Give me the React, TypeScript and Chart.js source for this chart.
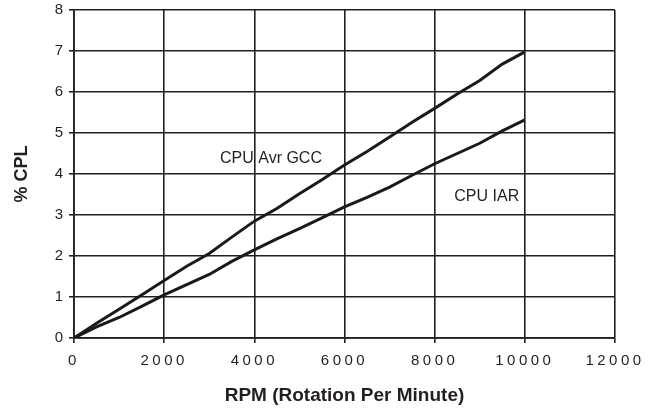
import React, { useEffect, useRef } from "react";
import { Chart, registerables } from "chart.js";

Chart.register(...registerables);

const rpm = [0, 500, 1000, 1500, 2000, 2500, 3000, 3500, 4000, 4500, 5000, 5500, 6000, 6500, 7000, 7500, 8000, 8500, 9000, 9500, 10000];
const cpuAvrGcc = [0, 0.36, 0.7, 1.05, 1.4, 1.75, 2.06, 2.46, 2.85, 3.16, 3.52, 3.86, 4.22, 4.55, 4.9, 5.26, 5.6, 5.95, 6.28, 6.68, 6.98];
const cpuIar = [0, 0.27, 0.5, 0.77, 1.05, 1.3, 1.55, 1.87, 2.15, 2.42, 2.67, 2.93, 3.2, 3.43, 3.68, 3.97, 4.25, 4.5, 4.75, 5.05, 5.32];

const seriesNames = ["CPU Avr GCC", "CPU IAR"];
// label anchors in data units [rpm, %CPL]
const labelX = [4370, 9155];
const labelY = [4.38, 3.46];

const xTitle = "RPM (Rotation Per Minute)";
const yTitle = "% CPL";

const FONT = "Arial, 'Liberation Sans', Helvetica, sans-serif";
const INK = "#231f20";

export default function App() {
  const ref = useRef<HTMLCanvasElement | null>(null);

  useEffect(() => {
    if (!ref.current) return;
    const labelPlugin = {
      id: "seriesLabels",
      afterDatasetsDraw(chart: any) {
        const { ctx, scales } = chart;
        ctx.save();
        ctx.font = `16px ${FONT}`;
        ctx.fillStyle = INK;
        ctx.textAlign = "center";
        ctx.textBaseline = "middle";
        seriesNames.forEach((n, i) => {
          ctx.fillText(n, scales.x.getPixelForValue(labelX[i]), scales.y.getPixelForValue(labelY[i]));
        });
        ctx.restore();
        // widen tracking for x tick labels drawn next
        (ctx as any).letterSpacing = "3.5px";
      },
      afterDraw(chart: any) {
        (chart.ctx as any).letterSpacing = "0px";
      },
    };

    const chart = new Chart(ref.current, {
      type: "line",
      data: {
        datasets: [
          {
            label: seriesNames[0],
            data: rpm.map((x, i) => ({ x, y: cpuAvrGcc[i] })),
            borderColor: "#1a1a1a",
            borderWidth: 3,
            pointRadius: 0,
            tension: 0,
          },
          {
            label: seriesNames[1],
            data: rpm.map((x, i) => ({ x, y: cpuIar[i] })),
            borderColor: "#1a1a1a",
            borderWidth: 3,
            pointRadius: 0,
            tension: 0,
          },
        ],
      },
      options: {
        animation: false,
        responsive: false,
        devicePixelRatio: 1,
        layout: { padding: { left: 0, top: 10, right: 36, bottom: 0 } },
        plugins: { legend: { display: false }, tooltip: { enabled: false } },
        scales: {
          x: {
            type: "linear",
            min: 0,
            max: 12000,
            afterFit: (s: any) => { s.height = 76; s.paddingLeft = 0; s.paddingRight = 0; },
            ticks: { stepSize: 2000, color: INK, font: { family: FONT, size: 15 }, padding: 9, z: 1, maxRotation: 0, callback: (v: any) => String(v) } as any,
            grid: { color: INK, lineWidth: 1.6, tickLength: 5, drawTicks: true },
            border: { color: INK, width: 1.8 },
            title: { display: true, text: xTitle, color: INK, font: { family: FONT, size: 19, weight: "bold" }, padding: { top: 0, bottom: 7 } },
          },
          y: {
            type: "linear",
            min: 0,
            max: 8,
            afterFit: (s: any) => { s.width = 74; s.paddingTop = 0; s.paddingBottom = 0; },
            ticks: { stepSize: 1, color: INK, font: { family: FONT, size: 15 }, padding: 6, callback: (v: any) => String(v) },
            grid: { color: INK, lineWidth: 1.6, tickLength: 5, drawTicks: true },
            border: { color: INK, width: 1.8 },
            title: { display: true, text: yTitle, color: INK, font: { family: FONT, size: 18, weight: "bold" }, padding: { top: 11, bottom: 0 } },
          },
        },
      },
      plugins: [labelPlugin],
    });
    return () => chart.destroy();
  }, []);

  return (
    <div style={{ position: "fixed", left: 0, top: 0, width: 651, height: 414, background: "#fff" }}>
      <canvas ref={ref} width={651} height={414} />
    </div>
  );
}
